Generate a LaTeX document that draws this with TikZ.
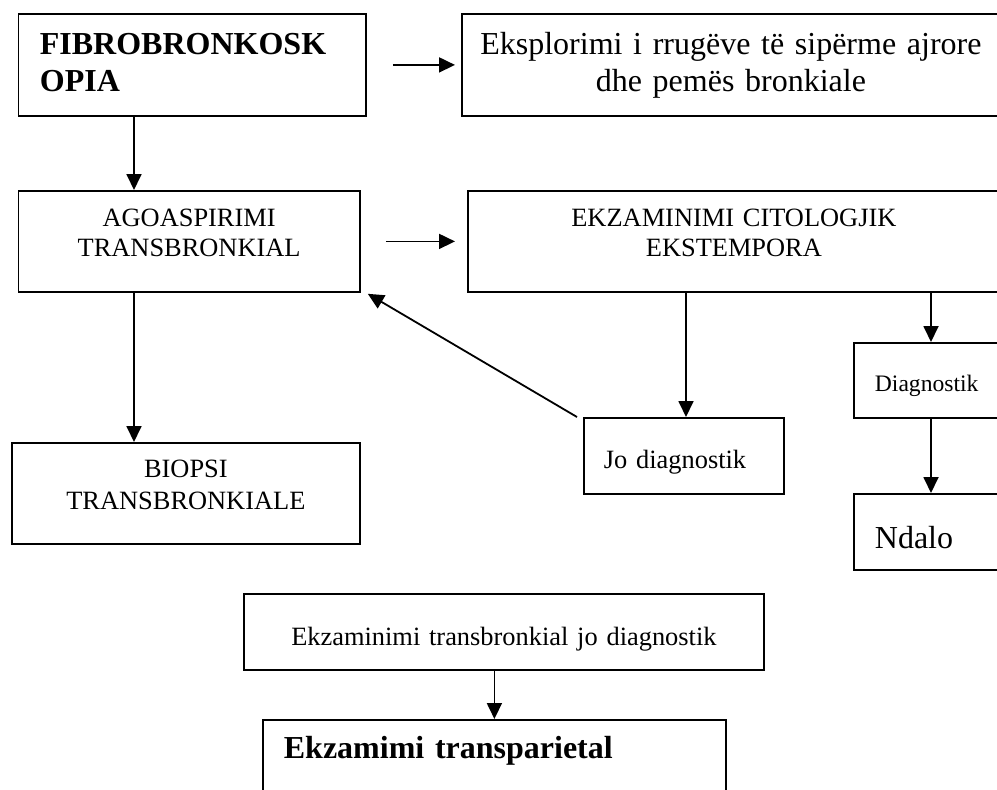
\documentclass[tikz,border=0pt]{standalone}
\usepackage{fontspec}
\setmainfont{Liberation Serif}
\usetikzlibrary{arrows.meta}

\tikzset{
  box/.style={draw, line width=0.9pt, anchor=north west, inner ysep=0pt, inner xsep=5pt, align=center},
  arr/.style={-{Triangle[length=8pt,width=7.5pt]}, line width=0.9pt},
  lab/.style={font=\fontsize{13.2}{15}\selectfont},
  big/.style={font=\fontsize{16}{18.5}\selectfont},
  bigbf/.style={font=\fontsize{16}{18.5}\selectfont\bfseries},
}

\begin{document}
\begin{tikzpicture}[x=0.5pt, y=-0.5pt]
        \useasboundingbox (0,0) rectangle (997,789);
        \clip (0,0) rectangle (997,789);

        \node[box, bigbf, align=left, inner xsep=10.75pt, text width=152.25pt, text height=20.5pt, text depth=30.5pt] (fibro) at (17.5,13) {FIBROBRONKOSK\\OPIA};
        \node[box, big, text width=259pt, text height=20.5pt, text depth=30.5pt] (ekspl) at (461,13) {Eksplorimi i rrugëve të sipërme ajrore\\dhe pemës bronkiale};
        \node[box, lab, text width=160.75pt, text height=18pt, text depth=32.5pt] (agoa) at (17.5,190) {AGOASPIRIMI\\TRANSBRONKIAL};
        \node[box, lab, text width=256pt, text height=18pt, text depth=32.5pt] (ekz) at (467,190) {EKZAMINIMI CITOLOGJIK\\EKSTEMPORA};
        \node[box, font=\fontsize{13.2}{16}\selectfont, text width=164pt, text height=17.5pt, text depth=33pt] (biopsi) at (11,442) {BIOPSI\\TRANSBRONKIALE};
        \node[box, lab, align=left, inner xsep=10pt, text width=80pt, text height=25.5pt, text depth=12.5pt] (jo) at (583,417) {Jo diagnostik};
        \node[box, font=\fontsize{11.8}{14}\selectfont, align=left, inner xsep=10.5pt, text width=59pt, text height=24.5pt, text depth=13pt] (diag) at (853,342) {Diagnostik};
        \node[box, big, align=left, inner xsep=10.5pt, text width=59pt, text height=27.5pt, text depth=10.5pt] (ndalo) at (853,493) {Ndalo};
        \node[box, lab, text width=250pt, text height=26pt, text depth=12pt] (trans) at (243,593) {Ekzaminimi transbronkial jo diagnostik};
        \node[box, bigbf, align=left, inner xsep=10.5pt, text width=210.5pt, text height=19.5pt, text depth=26pt] (transp) at (262,719) {Ekzamimi transparietal};

        \coordinate (c1) at (134,0);
        \coordinate (c2) at (686,0);
        \coordinate (c3) at (931,0);

        \draw[arr] (fibro.south -| c1) -- (agoa.north -| c1);
        \draw[arr] (agoa.south -| c1) -- (biopsi.north -| c1);
        \draw[arr] ([xshift=13pt]fibro.east) -- ([xshift=-3pt]ekspl.west);
        \draw[arr] ([xshift=12.5pt]agoa.east) -- ([xshift=-6pt]ekz.west);
        \draw[arr] (ekz.south -| c2) -- (jo.north -| c2);
        \draw[arr] (ekz.south -| c3) -- (diag.north -| c3);
        \draw[arr] (diag.south -| c3) -- (ndalo.north -| c3);
        \draw[arr] ([xshift=-3pt]jo.north west) -- ([shift={(3.5pt,-0.5pt)}]agoa.south east);
        \draw[arr] (trans.south -| transp.north) -- (transp.north);
\end{tikzpicture}
\end{document}
